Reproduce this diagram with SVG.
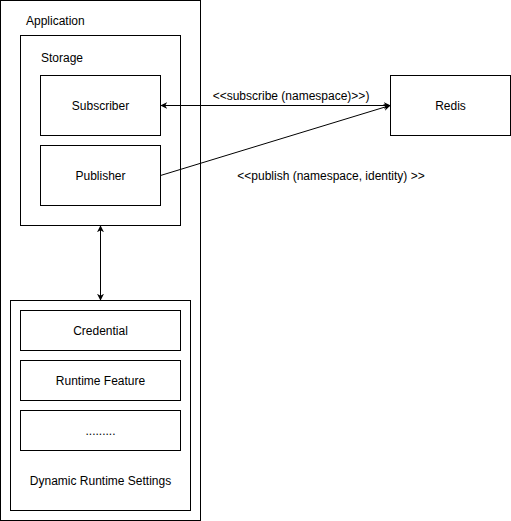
<svg xmlns="http://www.w3.org/2000/svg" width="511" height="521" viewBox="0 0 511 521">
<style>
rect{fill:#fff;stroke:#000;stroke-width:1}
text{font-family:"Liberation Sans",Arial,sans-serif;font-size:12px;fill:#000}
.c{text-anchor:middle}
.e{fill:none;stroke:#000;stroke-width:1}
</style>
<defs>
<marker id="a" viewBox="0 0 10 10" refX="9" refY="5" markerWidth="7" markerHeight="7" orient="auto-start-reverse" markerUnits="userSpaceOnUse">
<path d="M0,0 L10,5 L0,10 L3,5 Z" fill="#000"/>
</marker>
</defs>
<rect x="0" y="0" width="511" height="521" style="stroke:none"/>
<g id="application"><rect x="0.5" y="0.5" width="200" height="520"/><text x="26" y="25">Application</text></g>
<g id="storage"><rect x="20.5" y="35.5" width="160" height="190"/><text x="41" y="62">Storage</text></g>
<g id="subscriber"><rect x="40.5" y="75.5" width="120" height="60"/><text class="c" x="100.5" y="110">Subscriber</text></g>
<g id="publisher"><rect x="40.5" y="145.5" width="120" height="60"/><text class="c" x="100.5" y="180">Publisher</text></g>
<g id="redis"><rect x="390.5" y="75.5" width="120" height="60"/><text class="c" x="450.5" y="110">Redis</text></g>
<g id="dynamic"><rect x="10.5" y="300.5" width="180" height="210"/><text class="c" x="100.5" y="485">Dynamic Runtime Settings</text></g>
<g id="credential"><rect x="20.5" y="310.5" width="160" height="40"/><text class="c" x="100.5" y="335">Credential</text></g>
<g id="runtime"><rect x="20.5" y="360.5" width="160" height="40"/><text class="c" x="100.5" y="385">Runtime Feature</text></g>
<g id="more"><rect x="20.5" y="410.5" width="160" height="40"/><text class="c" x="100.5" y="435">.........</text></g>
<g id="connectors">
<line class="e" x1="161" y1="105.5" x2="390" y2="105.5" marker-start="url(#a)" marker-end="url(#a)"/>
<line class="e" x1="160.5" y1="175.5" x2="390" y2="105.5" marker-end="url(#a)"/>
<line class="e" x1="100.5" y1="226" x2="100.5" y2="300" marker-start="url(#a)" marker-end="url(#a)"/>
<text class="c" x="291" y="100">&lt;&lt;subscribe (namespace)&gt;&gt;)</text>
<text class="c" x="331" y="180">&lt;&lt;publish (namespace, identity) &gt;&gt;</text>
</g>
</svg>
